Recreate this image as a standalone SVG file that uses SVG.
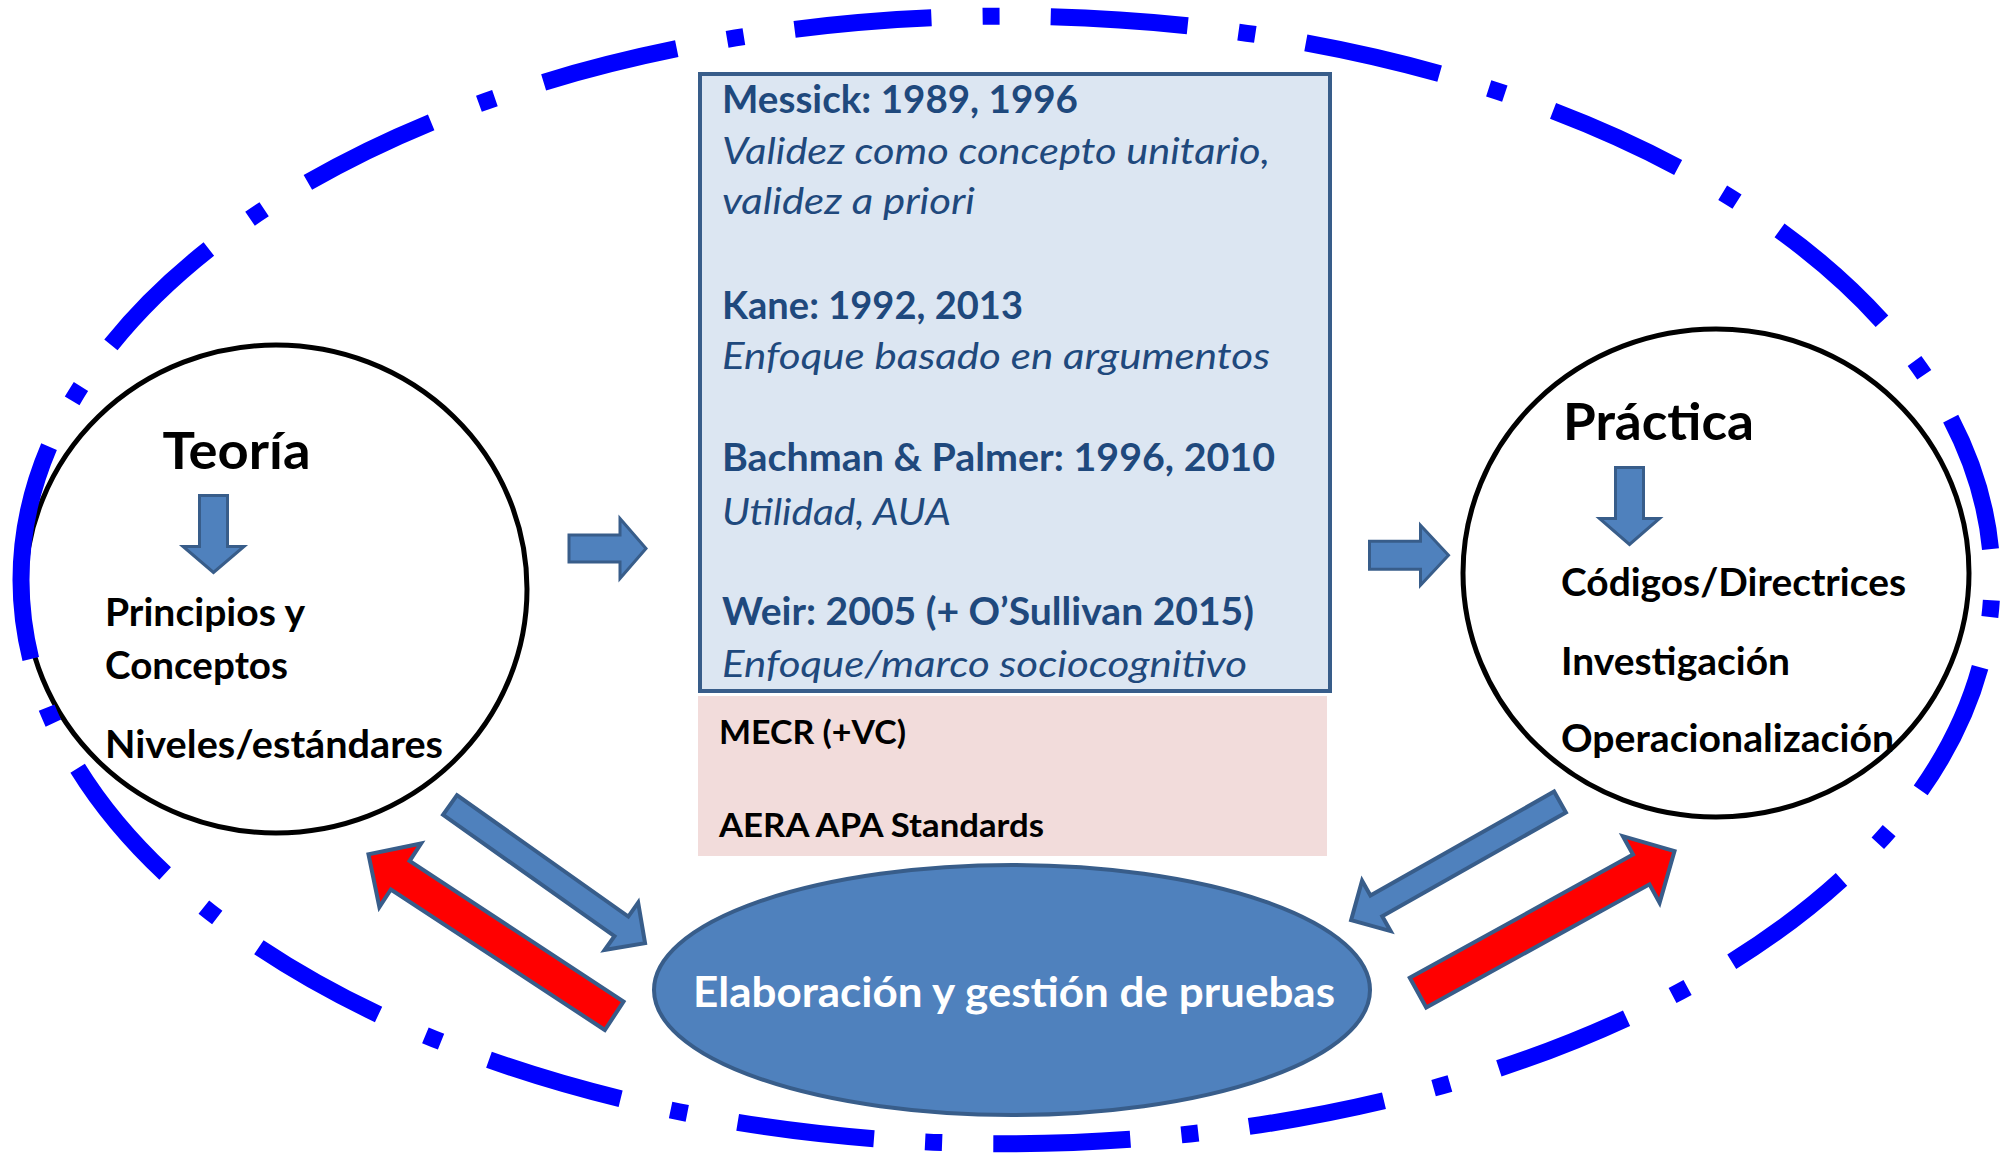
<svg xmlns="http://www.w3.org/2000/svg" width="2013" height="1158" viewBox="0 0 2013 1158">
<defs>
<style>
.t{font-family:Lato,"Liberation Sans",sans-serif;font-weight:bold;}
.blk{fill:#000000;}
.title{font-size:52px;}
.body{font-size:37.5px;}
.bx{fill:#1F497D;font-size:37.5px;}
.it{font-style:italic;font-weight:normal;}
.pk{font-size:33px;fill:#000000;}
.el{font-size:41.5px;fill:#FFFFFF;}
.circle{fill:#FFFFFF;stroke:#000000;stroke-width:5;}
.barrow{fill:#4F81BD;stroke:#385D8A;stroke-width:3;stroke-linejoin:miter;}
.barrow4{fill:#4F81BD;stroke:#385D8A;stroke-width:4;stroke-linejoin:miter;}
.rarrow{fill:#FF0000;stroke:#385D8A;stroke-width:4;stroke-linejoin:miter;}
</style>
</defs>
<rect x="0" y="0" width="2013" height="1158" fill="#FFFFFF"/>

<g id="teoria">
<ellipse class="circle" cx="276" cy="589" rx="251" ry="244"/>
<text class="t blk title" x="162.5" y="469" textLength="148" lengthAdjust="spacingAndGlyphs">Teoría</text>
<text class="t blk body" x="105" y="626" textLength="200" lengthAdjust="spacingAndGlyphs">Principios y</text>
<text class="t blk body" x="105" y="679" textLength="183" lengthAdjust="spacingAndGlyphs">Conceptos</text>
<text class="t blk body" x="105" y="757.5" textLength="338" lengthAdjust="spacingAndGlyphs">Niveles/estándares</text>
</g>

<g id="practica">
<ellipse class="circle" cx="1716" cy="573" rx="253" ry="244"/>
<text class="t blk title" x="1563" y="440" textLength="191" lengthAdjust="spacingAndGlyphs">Práctica</text>
<text class="t blk body" x="1561" y="596" textLength="345" lengthAdjust="spacingAndGlyphs">Códigos/Directrices</text>
<text class="t blk body" x="1561" y="675" textLength="229" lengthAdjust="spacingAndGlyphs">Investigación</text>
<text class="t blk body" x="1561" y="752" textLength="333" lengthAdjust="spacingAndGlyphs">Operacionalización</text>
</g>

<g id="frame">
<path d="M 21 580 A 985.5 564 0 0 1 1992 580 A 985.5 564 0 0 1 21 580" fill="none" stroke="#0000FF" stroke-width="17" stroke-dasharray="137.3 51.2 17 51.2" stroke-linecap="butt"/>
</g>

<g id="teorias-validez">
<rect x="700" y="74" width="630" height="617" fill="#DCE6F2" stroke="#385D8A" stroke-width="4"/>
<text class="t bx" x="722" y="113" textLength="356" lengthAdjust="spacingAndGlyphs">Messick: 1989, 1996</text>
<text class="t bx it" x="722" y="164" textLength="548" lengthAdjust="spacingAndGlyphs">Validez como concepto unitario,</text>
<text class="t bx it" x="722" y="214" textLength="253" lengthAdjust="spacingAndGlyphs">validez a priori</text>
<text class="t bx" x="722" y="319" textLength="301" lengthAdjust="spacingAndGlyphs">Kane: 1992, 2013</text>
<text class="t bx it" x="722" y="369" textLength="548" lengthAdjust="spacingAndGlyphs">Enfoque basado en argumentos</text>
<text class="t bx" x="722" y="471" textLength="553" lengthAdjust="spacingAndGlyphs">Bachman &amp; Palmer: 1996, 2010</text>
<text class="t bx it" x="722" y="525" textLength="229" lengthAdjust="spacingAndGlyphs">Utilidad, AUA</text>
<text class="t bx" x="722" y="625" textLength="532" lengthAdjust="spacingAndGlyphs">Weir: 2005 (+ O’Sullivan 2015)</text>
<text class="t bx it" x="722" y="677" textLength="525" lengthAdjust="spacingAndGlyphs">Enfoque/marco sociocognitivo</text>
</g>

<g id="marcos">
<rect x="698" y="696" width="629" height="160" fill="#F2DCDB"/>
<text class="t pk" x="719" y="744" textLength="187" lengthAdjust="spacingAndGlyphs">MECR (+VC)</text>
<text class="t pk" x="719" y="836.5" textLength="325" lengthAdjust="spacingAndGlyphs">AERA APA Standards</text>
</g>

<g id="pruebas">
<ellipse cx="1012" cy="990" rx="358" ry="125" fill="#4F81BD" stroke="#385D8A" stroke-width="4"/>
<text class="t el" x="693" y="1007" textLength="642" lengthAdjust="spacingAndGlyphs">Elaboración y gestión de pruebas</text>
</g>

<g id="connectors">
<polygon class="barrow" transform="translate(213.5,495.5) rotate(90)" points="0,-14 51,-14 51,-30.5 77,0 51,30.5 51,14 0,14"/>
<polygon class="barrow" transform="translate(1629.5,467.5) rotate(90)" points="0,-14 51,-14 51,-30 77,0 51,30 51,14 0,14"/>
<polygon class="barrow" transform="translate(569,548.5)" points="0,-13.5 51,-13.5 51,-30 77,0 51,30 51,13.5 0,13.5"/>
<polygon class="barrow" transform="translate(1369.5,555.3)" points="0,-14 51,-14 51,-30 79,0 51,30 51,14 0,14"/>
<polygon class="barrow4" transform="translate(450,805) rotate(35.3)" points="0,-12 210,-12 210,-29 239,0 210,29 210,12 0,12"/>
<polygon class="barrow4" transform="translate(1560,802) rotate(150.5)" points="0,-12 211,-12 211,-29 240,0 211,29 211,12 0,12"/>
<polygon class="rarrow" transform="translate(614.2,1015.8) rotate(213.3)" points="0,-17 256,-17 256,-38 294,0 256,38 256,17 0,17"/>
<polygon class="rarrow" transform="translate(1418,992.7) rotate(-28.9)" points="0,-17 255,-17 255,-38 293,0 255,38 255,17 0,17"/>
</g>
</svg>
